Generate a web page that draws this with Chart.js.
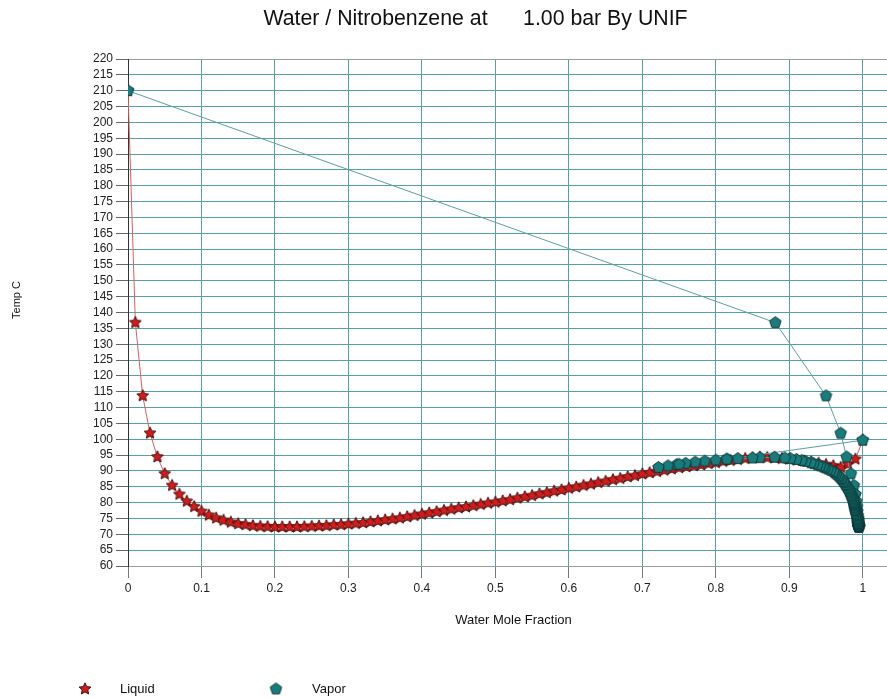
<!DOCTYPE html>
<html>
<head>
<meta charset="utf-8">
<title>Water / Nitrobenzene Txy</title>
<script src="https://cdn.jsdelivr.net/npm/chart.js@4/dist/chart.umd.min.js"></script>
<style>
  html, body { margin: 0; padding: 0; background: #fff; }
  #wrap { width: 887px; height: 699px; }
</style>
</head>
<body>
<div id="wrap"><canvas id="txy" width="887" height="699"></canvas></div>
<script>
// Liquid mole fraction of water (x) for each computed point
const liquidX = [
  0.00, 0.01, 0.02, 0.03, 0.04, 0.05, 0.06, 0.07, 0.08, 0.09,
  0.10, 0.11, 0.12, 0.13, 0.14, 0.15, 0.16, 0.17, 0.18, 0.19,
  0.20, 0.21, 0.22, 0.23, 0.24, 0.25, 0.26, 0.27, 0.28, 0.29,
  0.30, 0.31, 0.32, 0.33, 0.34, 0.35, 0.36, 0.37, 0.38, 0.39,
  0.40, 0.41, 0.42, 0.43, 0.44, 0.45, 0.46, 0.47, 0.48, 0.49,
  0.50, 0.51, 0.52, 0.53, 0.54, 0.55, 0.56, 0.57, 0.58, 0.59,
  0.60, 0.61, 0.62, 0.63, 0.64, 0.65, 0.66, 0.67, 0.68, 0.69,
  0.70, 0.71, 0.72, 0.73, 0.74, 0.75, 0.76, 0.77, 0.78, 0.79,
  0.80, 0.81, 0.82, 0.83, 0.84, 0.85, 0.86, 0.87, 0.88, 0.89,
  0.90, 0.91, 0.92, 0.93, 0.94, 0.95, 0.96, 0.97, 0.98, 0.99,
  1.00
];

// Bubble/dew temperature (C) at each point
const tempC = [
  210.0, 136.8, 113.7, 101.9, 94.4, 89.1, 85.4, 82.6, 80.4, 78.7,
  77.2, 76.0, 75.1, 74.4, 73.8, 73.3, 73.0, 72.7, 72.5, 72.4,
  72.3, 72.3, 72.3, 72.3, 72.4, 72.5, 72.6, 72.7, 72.9, 73.0,
  73.2, 73.4, 73.6, 73.9, 74.2, 74.5, 74.8, 75.1, 75.5, 75.9,
  76.3, 76.7, 77.1, 77.5, 77.9, 78.3, 78.6, 79.0, 79.4, 79.8,
  80.1, 80.5, 80.9, 81.4, 81.8, 82.2, 82.7, 83.1, 83.6, 84.0,
  84.5, 84.9, 85.4, 85.8, 86.3, 86.7, 87.2, 87.6, 88.1, 88.5,
  89.0, 89.4, 89.8, 90.2, 90.6, 91.0, 91.3, 91.6, 91.9, 92.3,
  92.6, 93.0, 93.3, 93.6, 93.9, 94.1, 94.3, 94.2, 94.1, 93.9,
  93.7, 93.4, 93.1, 92.8, 92.4, 92.0, 91.6, 91.1, 92.1, 93.7,
  99.7
];

// Equilibrium vapor mole fraction of water (y) at each point
const vaporY = [
  0.0000, 0.8810, 0.9500, 0.9700, 0.9780, 0.9840, 0.9880, 0.9900, 0.9912, 0.9920,
  0.9926, 0.9931, 0.9935, 0.9938, 0.9940, 0.9942, 0.9943, 0.9944, 0.9945, 0.9945,
  0.9946, 0.9946, 0.9945, 0.9945, 0.9944, 0.9943, 0.9942, 0.9942, 0.9941, 0.9940,
  0.9939, 0.9938, 0.9937, 0.9935, 0.9934, 0.9932, 0.9931, 0.9929, 0.9925, 0.9920,
  0.9914, 0.9909, 0.9904, 0.9900, 0.9896, 0.9893, 0.9891, 0.9888, 0.9884, 0.9881,
  0.9878, 0.9872, 0.9866, 0.9858, 0.9852, 0.9845, 0.9836, 0.9828, 0.9818, 0.9810,
  0.9797, 0.9786, 0.9772, 0.9761, 0.9748, 0.9737, 0.9718, 0.9704, 0.9685, 0.9665,
  0.9640, 0.9620, 0.9600, 0.9563, 0.9525, 0.9487, 0.9460, 0.9421, 0.9383, 0.9331,
  0.9293, 0.9224, 0.9170, 0.9097, 0.9017, 0.8940, 0.8800, 0.8600, 0.8500, 0.8300,
  0.8150, 0.8000, 0.7850, 0.7720, 0.7590, 0.7470, 0.7350, 0.7220, 0.7500, 0.8150,
  1.0000
];

// Axis ticks
const xTickValues = [0, 0.1, 0.2, 0.3, 0.4, 0.5, 0.6, 0.7, 0.8, 0.9, 1];
const xTickLabels = ['0', '0.1', '0.2', '0.3', '0.4', '0.5', '0.6', '0.7', '0.8', '0.9', '1'];
const yTickValues = [60, 65, 70, 75, 80, 85, 90, 95, 100, 105, 110, 115, 120, 125, 130, 135,
  140, 145, 150, 155, 160, 165, 170, 175, 180, 185, 190, 195, 200, 205, 210, 215, 220];

const titleText = 'Water / Nitrobenzene at      1.00 bar By UNIF';
const xTitle = 'Water Mole Fraction';
const yTitle = 'Temp C';
const seriesNames = ['Liquid', 'Vapor'];

const FONT = '"Liberation Sans", Arial, sans-serif';

// Marker glyphs: filled five-point star and pentagon
function polygonMarker(points, outerR, innerR, fill, stroke) {
  const size = Math.ceil(outerR * 2 + 3);
  const c = document.createElement('canvas');
  c.width = size; c.height = size;
  const g = c.getContext('2d');
  const cx = size / 2, cy = size / 2;
  const n = innerR ? points * 2 : points;
  g.beginPath();
  for (let k = 0; k < n; k++) {
    const r = innerR && (k % 2) ? innerR : outerR;
    const a = -Math.PI / 2 + k * (2 * Math.PI / n);
    const px = cx + r * Math.cos(a), py = cy + r * Math.sin(a);
    if (k === 0) g.moveTo(px, py); else g.lineTo(px, py);
  }
  g.closePath();
  g.fillStyle = fill;
  g.fill();
  g.lineWidth = 1;
  g.strokeStyle = stroke;
  g.stroke();
  return c;
}
const starMark = polygonMarker(5, 6.2, 2.9, '#d41a1a', '#4d0b0b');
const pentMark = polygonMarker(5, 6.0, 0, '#187c7c', '#0c3a3a');

const liquidPts = liquidX.map((x, i) => ({ x: x, y: tempC[i] }));
const vaporPts = vaporY.map((y, i) => ({ x: y, y: tempC[i] }));

const GRID = '#55a2a6';
const EDGE = '#9c9c9c';

const decorations = {
  id: 'decorations',
  beforeDraw(chart) {
    const ctx = chart.ctx;
    ctx.save();
    ctx.fillStyle = '#ffffff';
    ctx.fillRect(0, 0, chart.width, chart.height);
    ctx.restore();
  },
  afterDraw(chart) {
    const ctx = chart.ctx;
    ctx.save();
    ctx.fillStyle = '#111';
    ctx.textBaseline = 'middle';
    // title
    ctx.font = '21.3px ' + FONT;
    ctx.textAlign = 'center';
    ctx.fillText(titleText, 475.5, 19);
    // axis titles
    ctx.font = '13px ' + FONT;
    ctx.fillText(xTitle, 513.5, 620);
    ctx.save();
    ctx.translate(17, 300);
    ctx.rotate(-Math.PI / 2);
    ctx.font = '11px ' + FONT;
    ctx.fillText(yTitle, 0, 0);
    ctx.restore();
    // legend
    ctx.textAlign = 'left';
    ctx.font = '13px ' + FONT;
    ctx.drawImage(starMark, 85 - starMark.width / 2, 689 - starMark.height / 2);
    ctx.fillText(seriesNames[0], 120, 689);
    ctx.drawImage(pentMark, 276 - pentMark.width / 2, 689 - pentMark.height / 2);
    ctx.fillText(seriesNames[1], 312, 689);
    ctx.restore();
  }
};

new Chart(document.getElementById('txy'), {
  type: 'scatter',
  data: {
    datasets: [
      {
        label: seriesNames[1],
        data: vaporPts,
        showLine: true,
        borderColor: '#5c9fa2',
        borderWidth: 1,
        pointStyle: pentMark,
        pointRadius: 6,
        tension: 0,
        order: 0
      },
      {
        label: seriesNames[0],
        data: liquidPts,
        showLine: true,
        borderColor: '#d86060',
        borderWidth: 1,
        pointStyle: starMark,
        pointRadius: 6,
        tension: 0,
        order: 1
      }
    ]
  },
  plugins: [decorations],
  options: {
    responsive: false,
    animation: false,
    layout: { autoPadding: false, padding: { top: 59, right: 0, bottom: 0, left: 0 } },
    plugins: {
      legend: { display: false },
      title: { display: false },
      tooltip: { enabled: false }
    },
    scales: {
      x: {
        type: 'linear',
        min: 0,
        max: 1.033,
        afterBuildTicks(scale) {
          scale.ticks = xTickValues.map(v => ({ value: v }));
        },
        afterFit(scale) {
          scale.height = 133;
          scale.paddingLeft = 0;
          scale.paddingRight = 0;
        },
        ticks: {
          padding: 3,
          color: '#222',
          font: { family: FONT, size: 12 },
          maxRotation: 0,
          autoSkip: false,
          callback: (v) => xTickLabels[xTickValues.indexOf(v)] ?? ''
        },
        grid: {
          color: (c) => (c.tick && c.tick.value === 0) ? '#333' : GRID,
          tickColor: '#777',
          tickLength: 12,
          lineWidth: 1
        },
        border: { display: true, color: EDGE, width: 1 }
      },
      y: {
        type: 'linear',
        min: 60,
        max: 220,
        afterBuildTicks(scale) {
          scale.ticks = yTickValues.map(v => ({ value: v }));
        },
        afterFit(scale) { scale.width = 128; },
        ticks: {
          padding: 3,
          color: '#222',
          font: { family: FONT, size: 12 },
          autoSkip: false,
          callback: (v) => String(v)
        },
        grid: {
          color: (c) => {
            const v = c.tick && c.tick.value;
            return (v === 60 || v === 220) ? EDGE : GRID;
          },
          tickColor: '#666',
          tickLength: 12,
          lineWidth: 1
        },
        border: { display: true, color: '#333', width: 1 }
      }
    }
  }
});
</script>
</body>
</html>
